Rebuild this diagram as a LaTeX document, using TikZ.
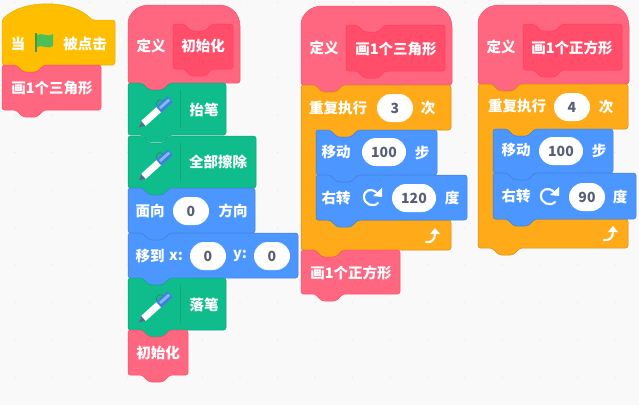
\documentclass[tikz,border=0pt]{standalone}
\usepackage{fontspec}
\setmainfont{Noto Sans CJK SC}
\usetikzlibrary{shapes.misc}

\definecolor{pagegray}{HTML}{F9F9F9}
\definecolor{dotgray}{HTML}{E4E4E4}
\definecolor{hatyellow}{HTML}{FFBF00}
\definecolor{hatedge}{HTML}{E6AC00}
\definecolor{mypink}{HTML}{FF6680}
\definecolor{pinkedge}{HTML}{FF4D6A}
\definecolor{innerpink}{HTML}{FF4D6A}
\definecolor{inneredge}{HTML}{FF3D5E}
\definecolor{pengreen}{HTML}{0FBD8C}
\definecolor{penedge}{HTML}{0DA57A}
\definecolor{motionblue}{HTML}{4C97FF}
\definecolor{blueedge}{HTML}{4280D7}
\definecolor{loopamber}{HTML}{FFAB19}
\definecolor{amberedge}{HTML}{CF8B17}
\definecolor{valuegray}{HTML}{575E75}
\definecolor{flaggreen}{HTML}{4CBF56}
\definecolor{poledark}{HTML}{45993D}

\tikzset{
	hatblk/.style={fill=hatyellow, draw=hatedge, line width=0.5pt},
	pinkblk/.style={fill=mypink, draw=pinkedge, line width=0.5pt},
	innerblk/.style={fill=innerpink, draw=inneredge, line width=0.5pt},
	penblk/.style={fill=pengreen, draw=penedge, line width=0.5pt},
	blueblk/.style={fill=motionblue, draw=blueedge, line width=0.5pt},
	loopblk/.style={fill=loopamber, draw=amberedge, line width=0.5pt},
	word/.style={text=white, inner sep=0pt, font=\bfseries\fontsize{14.5}{14.5}\selectfont},
	oval/.style={rounded rectangle, fill=white, inner sep=0pt, minimum height=28pt,
		text=valuegray, font=\bfseries\fontsize{14}{14}\selectfont},
	divider/.style={draw=penedge, line width=0.5pt},
	icon/.style={draw=white, line width=2.1pt, line cap=round},
}

% [notch offset]{style}{x1}{y1}{x2}{y2}
\newcommand{\stackblock}[6][14]{
	\draw[#2, rounded corners=2.5pt] (#3,#4) -- (#3+#1,#4) -- (#3+#1+7,#4+7) -- (#3+#1+21,#4+7)
		-- (#3+#1+28,#4) -- (#5,#4) -- (#5,#6) -- (#3+#1+28,#6) -- (#3+#1+21,#6+7)
		-- (#3+#1+7,#6+7) -- (#3+#1,#6) -- (#3,#6) -- cycle;
}
% {x1}{y1}{x2}{y2}
\newcommand{\defblock}[4]{
	\draw[pinkblk] (#1,#2+21) .. controls (#1,#2+9) and (#1+9,#2) .. (#1+21,#2)
		-- (#3-21,#2) .. controls (#3-9,#2) and (#3,#2+9) .. (#3,#2+21)
		[rounded corners=2.5pt] -- (#3,#4) -- (#1+42,#4) -- (#1+35,#4+7) -- (#1+21,#4+7)
		-- (#1+14,#4) -- (#1,#4) -- cycle;
}
% {x1}{y1}{x2}{arm bottom}{foot top}{foot bottom}
\newcommand{\loopblock}[6]{
	\draw[loopblk, rounded corners=2.5pt] (#1,#2) -- (#1+14,#2) -- (#1+21,#2+7) -- (#1+35,#2+7)
		-- (#1+42,#2) -- (#3,#2) -- (#3,#4) -- (#1+57,#4) -- (#1+50,#4+7) -- (#1+36,#4+7)
		-- (#1+29,#4) -- (#1+15,#4) -- (#1+15,#5) -- (#3,#5) -- (#3,#6) -- (#1+42,#6)
		-- (#1+35,#6+7) -- (#1+21,#6+7) -- (#1+14,#6) -- (#1,#6) -- cycle;
}
% pen icon, centre
\newcommand{\penicon}[2]{
	\begin{scope}[shift={(#1,#2)}, rotate=42]
		\draw[valuegray, line width=0.5pt] (14,-3.5) .. controls (13,-10) and (6,-7) .. (6,-3.5);
		\fill[valuegray!80!motionblue] (-21.5,0) -- (-15,-3.2) -- (-15,3.2) -- cycle;
		\fill[white] (-15.5,-3.4) -- (6,-3.4) -- (6,3.4) -- (-15.5,3.4) -- cycle;
		\fill[motionblue!85!black] (5,-3.9) -- (20.5,-3.9) -- (20.5,3.9) -- (5,3.9) -- cycle;
		\fill[motionblue!70!white] (7,-1.8) -- (19.5,-1.8) -- (19.5,1) -- (7,1) -- cycle;
	\end{scope}
}
% clockwise turn icon, centre
\newcommand{\turnicon}[2]{
	\draw[icon] (#1+6,#2+5) .. controls (#1+1,#2+10) and (#1-8,#2+6) .. (#1-8,#2-1)
		.. controls (#1-8,#2-8) and (#1-1,#2-10) .. (#1+4,#2-6);
	\fill[white] (#1+10,#2-10) -- (#1+10,#2-1) -- (#1+1,#2-2) -- cycle;
}
% loop arrow, centre
\newcommand{\loopicon}[2]{
	\draw[icon] (#1-6,#2+6) .. controls (#1,#2+7) and (#1+3,#2+3) .. (#1+3,#2-2);
	\fill[white] (#1+3,#2-8) -- (#1+8,#2-2) -- (#1-2,#2-2) -- cycle;
}

\begin{document}
\begin{tikzpicture}[x=1pt, y=-1pt, >=latex]
	\useasboundingbox (0,0) rectangle (639,405);
	\fill[pagegray] (0,0) rectangle (639,405);

	\foreach \col in {0,...,16}
		\foreach \row in {0,...,10}
			\fill[dotgray] (15+37.5*\col,2.5+37.5*\row) circle (0.7);

	% first stack
	\draw[hatblk, rounded corners=2.5pt] (2,20) .. controls (22,-1) and (72,-1) .. (92,20)
		-- (115,20) -- (115,65) -- (44,65) -- (37,72) -- (23,72) -- (16,65) -- (2,65) -- cycle;
	\node[word] (whenword) at (18,44) {当};
	\fill[poledark] (35,33) rectangle (37,52);
	\fill[flaggreen] (37,35) .. controls (42,32) and (47,38) .. (53,34)
		-- (53,46) .. controls (47,50) and (42,44) .. (37,47) -- cycle;
	\node[word] (clickword) at (85,44) {被点击};
	\stackblock{pinkblk}{2}{65}{101}{110}
	\node[word] (calltri) at (52,88) {画1个三角形};

	% second stack
	\defblock{128}{5}{240}{83}
	\node[word] (defword) at (151,46) {定义};
	\stackblock[11]{innerblk}{173}{24}{233}{69}
	\node[word] (initname) at (203,46) {初始化};

	\stackblock{penblk}{128}{83}{226}{135}
	\penicon{155}{113}
	\draw[divider] (180,90) -- (180,128);
	\node[word] (penup) at (204,110) {抬笔};

	\stackblock{penblk}{128}{136}{256}{188}
	\penicon{155}{166}
	\draw[divider] (180,143) -- (180,181);
	\node[word] (penclear) at (218,162) {全部擦除};

	\stackblock{blueblk}{128}{188}{255}{233}
	\node[word] (faceword) at (150,211) {面向};
	\node[oval, minimum width=36pt] (faceval) at (191,211) {0};
	\node[word] (dirword) at (233,211) {方向};

	\stackblock{blueblk}{128}{233}{298}{278}
	\node[word] (gotoword) at (150,256) {移到};
	\node[word] (xword) at (176,256) {x:};
	\node[oval, minimum width=36pt] (xval) at (208,256) {0};
	\node[word] (yword) at (240,256) {y:};
	\node[oval, minimum width=36pt] (yval) at (272,256) {0};

	\stackblock{penblk}{128}{278}{226}{330}
	\penicon{155}{308}
	\draw[divider] (180,285) -- (180,323);
	\node[word] (pendown) at (204,305) {落笔};

	\stackblock{pinkblk}{128}{330}{188}{375}
	\node[word] (callinit) at (158,353) {初始化};

	% third stack
	\defblock{301}{6}{452}{85}
	\node[word] (deftri) at (324,48) {定义};
	\stackblock[11]{innerblk}{346}{25}{445}{71}
	\node[word] (triname) at (396,49) {画1个三角形};

	\loopblock{301}{85}{451}{130}{220}{250}
	\node[word] (repeatthree) at (338,108) {重复执行};
	\node[oval, minimum width=36pt] (threeval) at (395,108) {3};
	\node[word] (timesthree) at (428,108) {次};
	\loopicon{432}{236}

	\stackblock{blueblk}{316}{130}{437}{175}
	\node[word] (movethree) at (336,152) {移动};
	\node[oval, minimum width=44pt] (movethreeval) at (384,152) {100};
	\node[word] (stepthree) at (422,153) {步};

	\stackblock{blueblk}{316}{175}{467}{220}
	\node[word] (turnthree) at (336,198) {右转};
	\turnicon{372}{198}
	\node[oval, minimum width=44pt] (turnthreeval) at (414,198) {120};
	\node[word] (degthree) at (452,198) {度};

	\stackblock{pinkblk}{301}{250}{400}{294}
	\node[word] (callsquare) at (351,273) {画1个正方形};

	% fourth stack
	\defblock{478}{5}{629}{84}
	\node[word] (defsquare) at (501,47) {定义};
	\stackblock[11]{innerblk}{523}{24}{622}{70}
	\node[word] (squarename) at (572,48) {画1个正方形};

	\loopblock{478}{84}{628}{129}{219}{248}
	\node[word] (repeatfour) at (517,106) {重复执行};
	\node[oval, minimum width=36pt] (fourval) at (572,107) {4};
	\node[word] (timesfour) at (606,107) {次};
	\loopicon{610}{234}

	\stackblock{blueblk}{493}{129}{613}{173}
	\node[word] (movefour) at (516,150) {移动};
	\node[oval, minimum width=44pt] (movefourval) at (561,151) {100};
	\node[word] (stepfour) at (599,151) {步};

	\stackblock{blueblk}{493}{173}{636}{219}
	\node[word] (turnfour) at (516,196) {右转};
	\turnicon{549}{197}
	\node[oval, minimum width=36pt] (turnfourval) at (587,197) {90};
	\node[word] (degfour) at (620,197) {度};
\end{tikzpicture}
\end{document}
